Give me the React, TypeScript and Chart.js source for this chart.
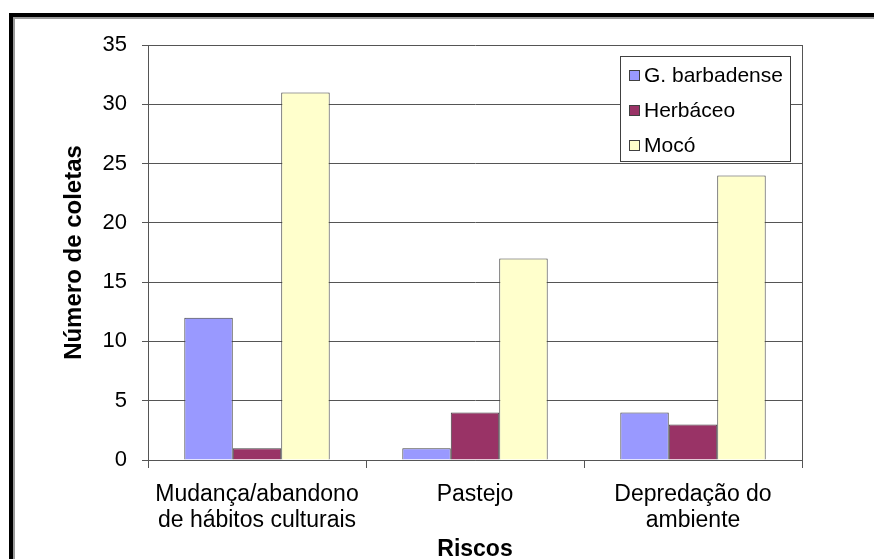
import React, { useEffect, useRef } from 'react';
import { Chart, registerables, Plugin } from 'chart.js';

Chart.register(...registerables);

const categories: (string | string[])[] = [
  ['Mudança/abandono', 'de hábitos culturais'],
  'Pastejo',
  ['Depredação do', 'ambiente'],
];
const seriesNames = ['G. barbadense', 'Herbáceo', 'Mocó'];
const barbadense = [12, 1, 4];
const herbaceo = [1, 4, 3];
const moco = [31, 17, 24];
const seriesColors = ['#9999FF', '#993366', '#FFFFCC'];

const FONT = '"Liberation Sans", Arial, sans-serif';
const GRID = '#555555';
const EDGE = '#404040';

// plot border on the right + the boxed legend inside the plot area
const excelBits: Plugin<'bar'> = {
  id: 'excelBits',
  afterDraw(chart) {
    const { ctx, chartArea } = chart;
    ctx.save();
    ctx.strokeStyle = GRID;
    ctx.lineWidth = 1;
    ctx.beginPath();
    ctx.moveTo(Math.round(chartArea.right) + 0.5, chartArea.top);
    ctx.lineTo(Math.round(chartArea.right) + 0.5, chartArea.bottom);
    ctx.stroke();

    const bx = 620, by = 56, bw = 170, bh = 105;
    ctx.fillStyle = '#ffffff';
    ctx.fillRect(bx, by, bw, bh);
    ctx.strokeStyle = EDGE;
    ctx.strokeRect(bx + 0.5, by + 0.5, bw, bh);

    ctx.font = `21px ${FONT}`;
    ctx.textBaseline = 'middle';
    ctx.textAlign = 'left';
    chart.data.datasets.forEach((ds, i) => {
      const cy = 75 + i * 35;
      ctx.fillStyle = ds.backgroundColor as string;
      ctx.fillRect(629, cy - 5, 10, 10);
      ctx.strokeStyle = EDGE;
      ctx.strokeRect(629.5, cy - 4.5, 10, 10);
      ctx.fillStyle = '#000000';
      ctx.fillText(ds.label as string, 644, cy + 1);
    });
    ctx.restore();
  },
};

const App: React.FC = () => {
  const canvasRef = useRef<HTMLCanvasElement | null>(null);

  useEffect(() => {
    if (!canvasRef.current) return;
    const values = [barbadense, herbaceo, moco];
    const chart = new Chart(canvasRef.current, {
      type: 'bar',
      data: {
        labels: categories,
        datasets: seriesNames.map((name, i) => ({
          label: name,
          data: values[i],
          backgroundColor: seriesColors[i],
          borderColor: EDGE,
          borderWidth: 1,
          categoryPercentage: 0.667,
          barPercentage: 1.0,
        })),
      },
      options: {
        animation: false,
        responsive: false,
        layout: { padding: { top: 45, right: 72, bottom: 0, left: 0 } },
        plugins: {
          legend: { display: false },
          tooltip: { enabled: false },
        },
        scales: {
          x: {
            offset: true,
            afterFit: (scale) => { scale.height = 99; },
            grid: {
              offset: true,
              drawOnChartArea: false,
              tickLength: 8,
              color: GRID,
            },
            border: { display: true, color: GRID },
            ticks: {
              color: '#000000',
              padding: 14,
              maxRotation: 0,
              font: { family: FONT, size: 23, lineHeight: '26px' },
            },
            title: {
              display: true,
              text: 'Riscos',
              color: '#000000',
              padding: 0,
              font: { family: FONT, size: 23, weight: 'bold', lineHeight: 0.8 },
            },
          },
          y: {
            min: 0,
            max: 35,
            afterFit: (scale) => { scale.width = 148; },
            ticks: {
              stepSize: 5,
              color: '#000000',
              padding: 15,
              font: { family: FONT, size: 22 },
            },
            grid: { color: GRID, tickLength: 6 },
            border: { display: true, color: GRID },
            title: {
              display: true,
              text: 'Número de coletas',
              color: '#000000',
              padding: { top: 60, bottom: 0 },
              font: { family: FONT, size: 24, weight: 'bold' },
            },
          },
        },
      },
      plugins: [excelBits],
    });
    return () => chart.destroy();
  }, []);

  return (
    <div style={{ position: 'fixed', left: 0, top: 0, width: 874, height: 559, background: '#fff', overflow: 'hidden' }}>
      <div
        style={{
          position: 'absolute',
          left: 9,
          top: 13,
          width: 1000,
          height: 700,
          borderLeft: '4px solid #000',
          borderTop: '4px solid #000',
          boxShadow: 'inset 2px 2px 0 #9a9a9a',
        }}
      />
      <canvas ref={canvasRef} width={874} height={559} style={{ position: 'absolute', left: 0, top: 0, width: 874, height: 559 }} />
    </div>
  );
};

export default App;
